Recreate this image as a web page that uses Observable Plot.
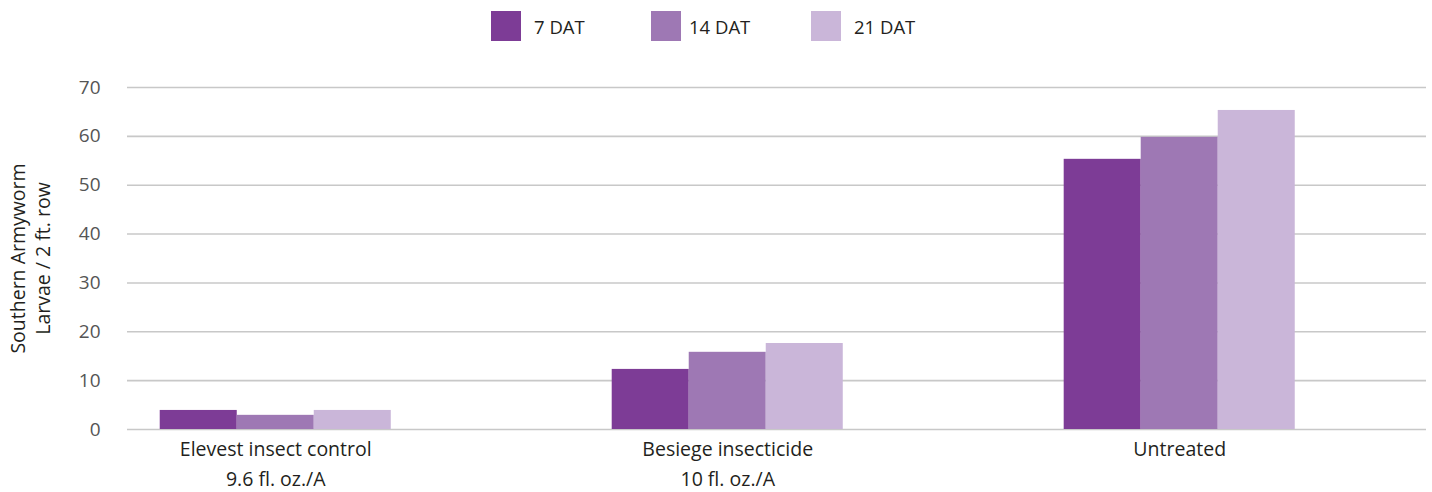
<!DOCTYPE html>
<html>
<head>
<meta charset="utf-8">
<script src="https://cdn.jsdelivr.net/npm/d3@7"></script>
<script src="https://cdn.jsdelivr.net/npm/@observablehq/plot@0.6"></script>
<style>
  html, body { margin: 0; padding: 0; background: #fff; }
  #wrap { position: relative; width: 1432px; height: 492px; font-family: "Open Sans", sans-serif; }
  #legend { position: absolute; top: 11px; left: 0; width: 1432px; height: 30px; }
  .item { position: absolute; top: 0; height: 30px; display: flex; align-items: center; font-size: 18.5px; color: #231f20; }
  .sw { width: 30px; height: 30px; display: inline-block; }
  #chart { position: absolute; top: 0; left: 0; }
</style>
</head>
<body>
<div id="wrap">
  <div id="chart"></div>
  <div id="legend"></div>
</div>
<script>
const categories = ["Elevest insect control\n9.6 fl. oz./A", "Besiege insecticide\n10 fl. oz./A", "Untreated"];
const series = ["7 DAT", "14 DAT", "21 DAT"];
const dat7 = [3.9, 12.3, 55.3];
const dat14 = [2.9, 15.8, 59.8];
const dat21 = [3.9, 17.6, 65.3];
const colors = ["#7d3c96", "#9e78b4", "#cab6d9"];
const yTicks = [0, 10, 20, 30, 40, 50, 60, 70];
const yLabel = "Southern Armyworm\nLarvae / 2 ft. row";

const valuesBySeries = [dat7, dat14, dat21];
const data = [];
categories.forEach((c, gi) => {
  series.forEach((s, si) => {
    data.push({category: c, gi, series: s, si, value: valuesBySeries[si][gi]});
  });
});

const barW = 0.1704; // bar width in group units

const chart = Plot.plot({
  width: 1432,
  height: 492,
  marginTop: 87,
  marginBottom: 63,
  marginLeft: 127,
  marginRight: 6,
  style: {fontFamily: "Open Sans, sans-serif", fontSize: "19px", background: "transparent"},
  x: {type: "linear", domain: [-0.328, 2.546], axis: null},
  y: {domain: [0, 70], axis: null},
  color: {domain: series, range: colors},
  marks: [
    Plot.gridY(yTicks, {stroke: "#c8c8c8", strokeOpacity: 1, strokeWidth: 1.6}),
    Plot.rectY(data, {
      x1: d => d.gi + (d.si - 1.5) * barW,
      x2: d => d.gi + (d.si - 0.5) * barW,
      y: "value",
      fill: "series"
    }),
    Plot.axisY(yTicks, {tickSize: 0, tickPadding: 27, fill: "#555", fontSize: 19, label: null}),
    Plot.axisX([0, 1, 2], {
      tickSize: 0, tickPadding: 6,
      tickFormat: i => categories[i],
      fill: "#231f20", fontSize: 19.5, lineHeight: 1.5, label: null
    }),
    Plot.text([yLabel], {
      frameAnchor: "left", rotate: -90, dx: -98,
      text: d => d, fontSize: 19.5, fill: "#231f20", lineHeight: 1.25, textAnchor: "middle"
    })
  ]
});
document.getElementById("chart").appendChild(chart);

// legend
const legendX = [491, 651, 811];
const legend = document.getElementById("legend");
series.forEach((s, i) => {
  const it = document.createElement("div");
  it.className = "item";
  it.style.left = legendX[i] + "px";
  const sw = document.createElement("span");
  sw.className = "sw";
  sw.style.background = colors[i];
  const t = document.createElement("span");
  t.textContent = s;
  t.style.marginLeft = (i === 1 ? 8 : 13) + "px";
  it.appendChild(sw);
  it.appendChild(t);
  legend.appendChild(it);
});
</script>
</body>
</html>
